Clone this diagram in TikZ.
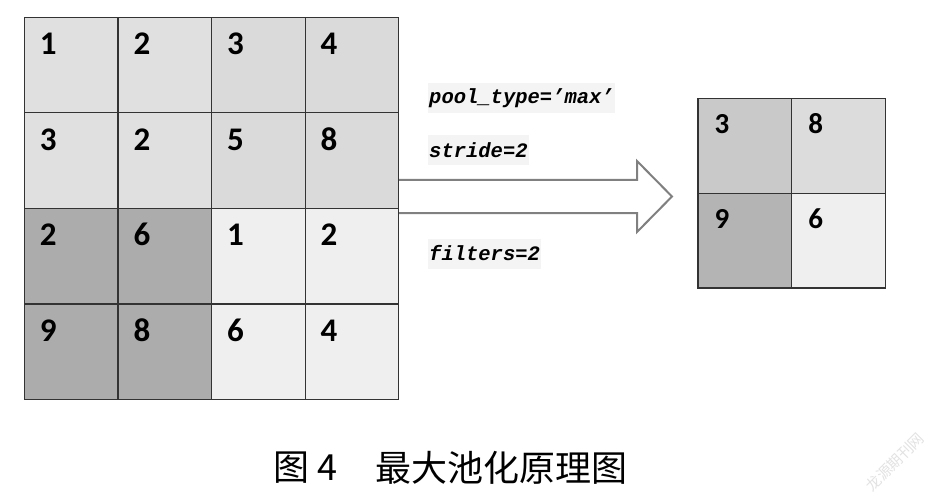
\documentclass[tikz,border=0pt]{standalone}
\usepackage{fontspec}
\newfontfamily\numfont{Carlito}
\newfontfamily\codefont{Liberation Mono}
\newfontfamily\cjk{Noto Sans CJK SC}
\definecolor{cA}{HTML}{E0E0E0}
\definecolor{cB}{HTML}{DADADA}
\definecolor{cC}{HTML}{ACACAC}
\definecolor{cD}{HTML}{EFEFEF}
\definecolor{rA}{HTML}{C9C9C9}
\definecolor{rB}{HTML}{DCDCDC}
\definecolor{rC}{HTML}{B4B4B4}
\definecolor{rD}{HTML}{EFEFEF}
\definecolor{gline}{HTML}{333333}
\definecolor{agray}{HTML}{808080}
\definecolor{hl}{HTML}{F4F4F4}
\definecolor{wmc}{HTML}{E2E2E2}
\begin{document}
\begin{tikzpicture}[x=1pt,y=-1pt,
  cellbox/.style={draw=gline, line width=1.2pt, inner sep=0pt, anchor=north west,
    minimum width=93.6pt, minimum height=95.5pt},
  rcellbox/.style={draw=gline, line width=1.2pt, inner sep=0pt, anchor=north west,
    minimum width=93.7pt, minimum height=94.8pt},
  numL/.style={inner sep=0pt, anchor=base west, font=\numfont\bfseries\fontsize{33}{36}\selectfont},
  numR/.style={inner sep=0pt, anchor=base west, font=\numfont\bfseries\fontsize{29}{32}\selectfont},
  codetxt/.style={fill=hl, inner xsep=1pt, inner ysep=0pt, minimum height=30pt, anchor=west,
    font=\codefont\bfseries\itshape\fontsize{20.5}{24}\selectfont},
  arrowshape/.style={draw=agray, line width=2pt, fill=white, line join=miter},
  captxt/.style={inner sep=0pt, anchor=west, font=\cjk\fontsize{36}{40}\selectfont}
]
\useasboundingbox (0,0) rectangle (936,497);

% arrow
\coordinate (a1) at (397,180);
\coordinate (a2) at (637,180);
\coordinate (a3) at (637,161);
\coordinate (a4) at (672,196.5);
\coordinate (a5) at (637,232);
\coordinate (a6) at (637,213);
\coordinate (a7) at (397,213);
\draw[arrowshape] (a1) -- (a2) -- (a3) -- (a4) -- (a5) -- (a6) -- (a7) -- cycle;

% left grid
\foreach \r/\c/\v/\col in {0/0/1/cA,0/1/2/cA,0/2/3/cB,0/3/4/cB,
                           1/0/3/cA,1/1/2/cA,1/2/5/cB,1/3/8/cB,
                           2/0/2/cC,2/1/6/cC,2/2/1/cD,2/3/2/cD,
                           3/0/9/cC,3/1/8/cC,3/2/6/cD,3/3/4/cD}{
  \node[cellbox, fill=\col] (L\r\c) at ({23.7+93.6*\c},{16.8+95.5*\r}) {};
  \node[numL] (nL\r\c) at ([shift={(16,38)}]L\r\c.north west) {\v};
}

% right grid
\foreach \r/\c/\v/\col in {0/0/3/rA,0/1/8/rB,1/0/9/rC,1/1/6/rD}{
  \node[rcellbox, fill=\col] (R\r\c) at ({697.4+93.7*\c},{97.7+94.8*\r}) {};
  \node[numR] (nR\r\c) at ([shift={(17,36)}]R\r\c.north west) {\v};
}

% parameter labels
\node[codetxt] (t1) at (428,98) {pool\_type=’max’};
\node[codetxt] (t2) at (428,150) {stride=2};
\node[codetxt] (t3) at (428,253.5) {filters=2};

% caption
\node[captxt] (cap1) at (273,468) {图 4};
\node[captxt] (cap2) at (375,468) {最大池化原理图};

% watermark
\node[rotate=45, inner sep=0pt, text=wmc, font=\cjk\fontsize{15}{15}\selectfont] (wm) at (895,462) {龙源期刊网};
\end{tikzpicture}
\end{document}
